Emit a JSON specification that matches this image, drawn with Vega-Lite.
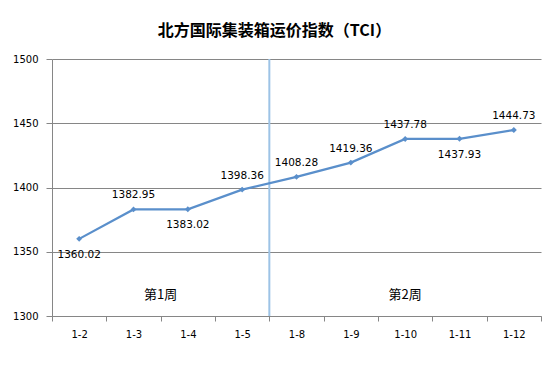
{
  "$schema": "https://vega.github.io/schema/vega-lite/v6.json",
  "autosize": "none",
  "width": 489,
  "height": 257,
  "padding": {"left": 52, "top": 59, "right": 11, "bottom": 50},
  "background": "white",
  "title": {
    "text": "北方国际集装箱运价指数（TCI）",
    "font": "Noto Sans CJK SC",
    "fontSize": 16,
    "fontWeight": "bold",
    "color": "#000000",
    "offset": 15,
    "dx": -22
  },
  "config": {
    "view": {"stroke": null},
    "font": "DejaVu Sans"
  },
  "datasets": {
    "tci": [
      {"date": "1-2", "value": 1360.02, "pos": "below"},
      {"date": "1-3", "value": 1382.95, "pos": "above"},
      {"date": "1-4", "value": 1383.02, "pos": "below"},
      {"date": "1-5", "value": 1398.36, "pos": "above"},
      {"date": "1-8", "value": 1408.28, "pos": "above"},
      {"date": "1-9", "value": 1419.36, "pos": "above"},
      {"date": "1-10", "value": 1437.78, "pos": "above"},
      {"date": "1-11", "value": 1437.93, "pos": "below"},
      {"date": "1-12", "value": 1444.73, "pos": "above"}
    ],
    "weeks": [
      {"label": "第1周", "date": "1-4", "level": 1316, "edge": "start"},
      {"label": "第2周", "date": "1-10", "level": 1316, "edge": "center"}
    ],
    "divider": [
      {"date": "1-8", "low": 1300, "high": 1500}
    ]
  },
  "resolve": {"scale": {"x": "shared", "y": "shared"}},
  "layer": [
    {
      "data": {"name": "divider"},
      "mark": {"type": "rule", "color": "#9DC3E6", "strokeWidth": 2},
      "encoding": {
        "x": {
          "field": "date",
          "type": "ordinal",
          "bandPosition": 0,
          "scale": {"domain": ["1-2", "1-3", "1-4", "1-5", "1-8", "1-9", "1-10", "1-11", "1-12"], "paddingInner": 0, "paddingOuter": 0},
          "axis": {
            "title": null,
            "grid": false,
            "labelAngle": 0,
            "tickBand": "extent",
            "domainColor": "#868686",
            "tickColor": "#868686",
            "tickSize": 5,
            "labelPadding": 8,
            "labelFont": "DejaVu Sans",
            "labelFontSize": 10,
            "labelColor": "#000000"
          }
        },
        "y": {
          "field": "low",
          "type": "quantitative",
          "scale": {"domain": [1300, 1500], "nice": false, "zero": false},
          "axis": {
            "title": null,
            "values": [1300, 1350, 1400, 1450, 1500],
            "format": "d",
            "grid": true,
            "gridColor": "#868686",
            "domainColor": "#868686",
            "tickColor": "#868686",
            "tickSize": 6,
            "labelPadding": 8,
            "labelFont": "DejaVu Sans",
            "labelFontSize": 10,
            "labelColor": "#000000"
          }
        },
        "y2": {"field": "high"}
      }
    },
    {
      "data": {"name": "tci"},
      "mark": {"type": "line", "color": "#5A8FCB", "strokeWidth": 2.25},
      "encoding": {
        "x": {"field": "date", "type": "ordinal"},
        "y": {"field": "value", "type": "quantitative"}
      }
    },
    {
      "data": {"name": "tci"},
      "mark": {"type": "point", "shape": "diamond", "filled": true, "size": 35, "color": "#5A8FCB", "opacity": 1},
      "encoding": {
        "x": {"field": "date", "type": "ordinal"},
        "y": {"field": "value", "type": "quantitative"}
      }
    },
    {
      "data": {"name": "tci"},
      "transform": [{"filter": "datum.pos === 'above'"}],
      "mark": {"type": "text", "dy": -14, "fontSize": 10.5, "font": "DejaVu Sans", "color": "#000000"},
      "encoding": {
        "x": {"field": "date", "type": "ordinal"},
        "y": {"field": "value", "type": "quantitative"},
        "text": {"field": "value", "type": "quantitative", "format": ".2f"}
      }
    },
    {
      "data": {"name": "tci"},
      "transform": [{"filter": "datum.pos === 'below'"}],
      "mark": {"type": "text", "dy": 16, "fontSize": 10.5, "font": "DejaVu Sans", "color": "#000000"},
      "encoding": {
        "x": {"field": "date", "type": "ordinal"},
        "y": {"field": "value", "type": "quantitative"},
        "text": {"field": "value", "type": "quantitative", "format": ".2f"}
      }
    },
    {
      "data": {"name": "weeks"},
      "transform": [{"filter": "datum.edge === 'start'"}],
      "mark": {"type": "text", "fontSize": 13, "font": "Noto Sans CJK SC", "color": "#000000"},
      "encoding": {
        "x": {"field": "date", "type": "ordinal", "bandPosition": 0},
        "y": {"field": "level", "type": "quantitative"},
        "text": {"field": "label", "type": "nominal"}
      }
    },
    {
      "data": {"name": "weeks"},
      "transform": [{"filter": "datum.edge === 'center'"}],
      "mark": {"type": "text", "fontSize": 13, "font": "Noto Sans CJK SC", "color": "#000000"},
      "encoding": {
        "x": {"field": "date", "type": "ordinal"},
        "y": {"field": "level", "type": "quantitative"},
        "text": {"field": "label", "type": "nominal"}
      }
    }
  ]
}
